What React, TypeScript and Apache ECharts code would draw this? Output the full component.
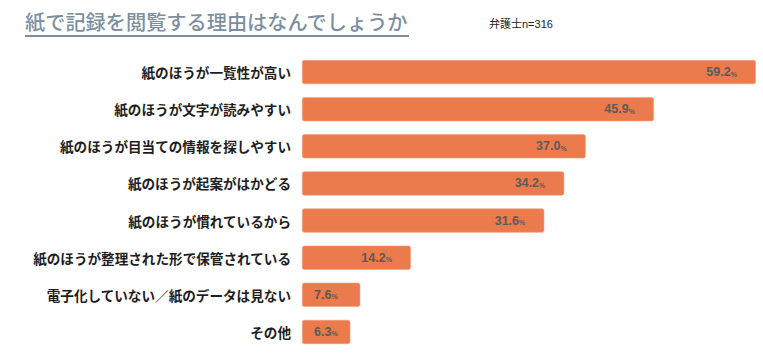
import React, { useEffect, useRef } from "react";
import * as echarts from "echarts";

const categories = [
  "紙のほうが一覧性が高い",
  "紙のほうが文字が読みやすい",
  "紙のほうが目当ての情報を探しやすい",
  "紙のほうが起案がはかどる",
  "紙のほうが慣れているから",
  "紙のほうが整理された形で保管されている",
  "電子化していない／紙のデータは見ない",
  "その他",
];
const values = [59.2, 45.9, 37.0, 34.2, 31.6, 14.2, 7.6, 6.3];
const titleText = "紙で記録を閲覧する理由はなんでしょうか";
const subText = "弁護士n=316";

export default function App() {
  const ref = useRef<HTMLDivElement>(null);
  useEffect(() => {
    if (!ref.current) return;
    const chart = echarts.init(ref.current, null, { renderer: "svg" });
    const font = "'Noto Sans CJK JP', 'Noto Sans', sans-serif";
    chart.setOption({
      animation: false,
      title: [
        {
          text: titleText,
          left: 25,
          top: 11,
          padding: 0,
          textStyle: { fontSize: 20.2, fontWeight: 500, color: "#7d8f9f", fontFamily: font },
        },
        {
          text: subText,
          left: 489,
          top: 18,
          padding: 0,
          textStyle: { fontSize: 11, fontWeight: 400, color: "#222", fontFamily: "'Liberation Sans', 'Noto Sans CJK JP', sans-serif" },
        },
      ],
      graphic: [
        {
          type: "rect",
          shape: { x: 25, y: 35, width: 384, height: 2 },
          style: { fill: "#7d8f9f" },
        },
      ],
      grid: { left: 302, right: 1, top: 53.5, bottom: 5.5 },
      xAxis: {
        type: "value",
        min: 0,
        max: 60,
        show: false,
      },
      yAxis: {
        type: "category",
        inverse: true,
        data: categories,
        axisLine: { show: false },
        axisTick: { show: false },
        axisLabel: {
          margin: 11,
          fontSize: 13.6,
          fontWeight: "bold",
          color: "#1e1e1e",
          fontFamily: font,
        },
      },
      series: [
        {
          type: "bar",
          barCategoryGap: "35%",
          data: values.map((v) => ({
            value: v,
            label:
              v < 10
                ? { position: "insideLeft", distance: 12 }
                : { position: "insideRight", distance: 19 },
          })),
          itemStyle: {
            color: "#eb7a4c",
            borderRadius: 2,
            borderColor: "#f3a07e",
            borderWidth: 0.6,
          },
          label: {
            show: true,
            formatter: (p: any) => `{v|${p.value.toFixed(1)}}{p|%}`,
            rich: {
              v: { fontSize: 12.5, fontWeight: "bold", color: "#5a5a5a", fontFamily: "'Liberation Sans', Arial, sans-serif" },
              p: { fontSize: 7, fontWeight: "bold", color: "#5a5a5a", padding: [4, 0, 0, 0], fontFamily: "'Liberation Sans', Arial, sans-serif" },
            },
          },
        },
      ],
    });
    return () => chart.dispose();
  }, []);
  return <div ref={ref} style={{ width: 763, height: 356, position: "absolute", left: 0, top: 0, background: "#fff" }} />;
}
